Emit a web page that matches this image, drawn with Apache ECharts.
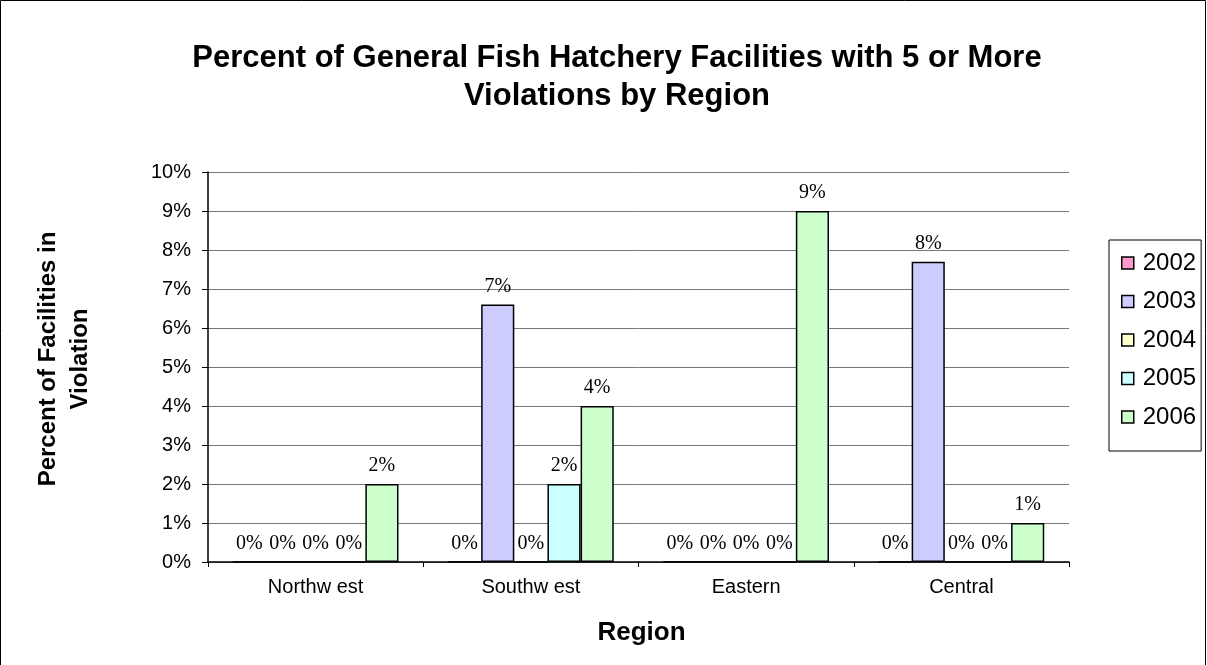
<!DOCTYPE html>
<html>
<head>
<meta charset="utf-8">
<script src="https://cdn.jsdelivr.net/npm/echarts@6/dist/echarts.min.js"></script>
<style>html,body{margin:0;padding:0;background:#fff;}#c{width:1207px;height:665px;}</style>
</head>
<body>
<div id="c"></div>
<script>
const categories = ['Northw est', 'Southw est', 'Eastern', 'Central'];
const years = ['2002', '2003', '2004', '2005', '2006'];
const v2002 = [0, 0, 0, 0];
const v2003 = [0, 6.6, 0, 7.7];
const v2004 = [0, 0, 0, 0];
const v2005 = [0, 2.0, 0, 0];
const v2006 = [2.0, 4.0, 9.0, 1.0];
const yTicks = [0, 1, 2, 3, 4, 5, 6, 7, 8, 9, 10];
const colors = ['#FF99CC', '#CCCCFF', '#FFFFCC', '#CCFFFF', '#CCFFCC'];

const seriesValues = [v2002, v2003, v2004, v2005, v2006];
const chart = echarts.init(document.getElementById('c'), null, {renderer: 'canvas'});
chart.setOption({
  animation: false,
  backgroundColor: '#fff',
  title: {
    text: 'Percent of General Fish Hatchery Facilities with 5 or More\nViolations by Region',
    left: 612, top: 34, textAlign: 'center',
    textStyle: {fontFamily: 'Liberation Sans, Arial', fontWeight: 'bold', fontSize: 31, lineHeight: 38, color: '#000'}
  },
  legend: {
    orient: 'vertical', left: 1109, top: 240,
    itemWidth: 12, itemHeight: 12, itemGap: 14.5,
    padding: [11, 5, 22, 12],
    borderColor: '#000', borderWidth: 1,
    textStyle: {fontFamily: 'Liberation Sans, Arial', fontSize: 24, color: '#000', padding: [0, 0, 0, 4]},
    data: years.map((y, i) => ({name: y, icon: 'rect', itemStyle: {color: colors[i], borderColor: '#000', borderWidth: 1.5}}))
  },
  grid: {left: 208, right: 138, top: 172, bottom: 103, outerBoundsMode: 'none', containLabel: false},
  xAxis: {
    type: 'category', data: categories,
    name: 'Region', nameLocation: 'middle', nameGap: 58,
    nameTextStyle: {fontFamily: 'Liberation Sans, Arial', fontWeight: 'bold', fontSize: 26, color: '#000', padding: [0, 0, 0, 6]},
    axisLine: {lineStyle: {color: '#000', width: 1.5}},
    axisTick: {show: true, length: 5, lineStyle: {color: '#000'}},
    axisLabel: {fontFamily: 'Liberation Sans, Arial', fontSize: 20, color: '#000', margin: 15}
  },
  yAxis: {
    type: 'value', min: 0, max: 10, interval: 1,
    name: 'Percent of Facilities in\nViolation', nameLocation: 'middle', nameGap: 112, nameRotate: 90,
    nameTextStyle: {fontFamily: 'Liberation Sans, Arial', fontWeight: 'bold', fontSize: 24, color: '#000', lineHeight: 32, padding: [0, 0, 0, 16]},
    axisLine: {show: true, lineStyle: {color: '#000', width: 1.5}},
    axisTick: {show: true, length: 6, lineStyle: {color: '#000'}},
    axisLabel: {formatter: '{value}%', fontFamily: 'Liberation Sans, Arial', fontSize: 20, color: '#000', margin: 17},
    splitLine: {show: true, lineStyle: {color: '#777', width: 1}}
  },
  series: years.map((y, i) => ({
    name: y, type: 'bar', data: seriesValues[i],
    barGap: '0%', barCategoryGap: '23%',
    itemStyle: {color: colors[i], borderColor: '#000', borderWidth: 1.5},
    label: {
      show: true, position: 'top', distance: 8,
      fontFamily: 'Liberation Serif, Times New Roman', fontSize: 20, color: '#000',
      formatter: p => Math.round(p.value) + '%'
    }
  })),
  graphic: [{
    type: 'rect', shape: {x: 0.5, y: 0.5, width: 1205, height: 670},
    style: {fill: null, stroke: '#000', lineWidth: 1}, silent: true
  }]
});
</script>
</body>
</html>
